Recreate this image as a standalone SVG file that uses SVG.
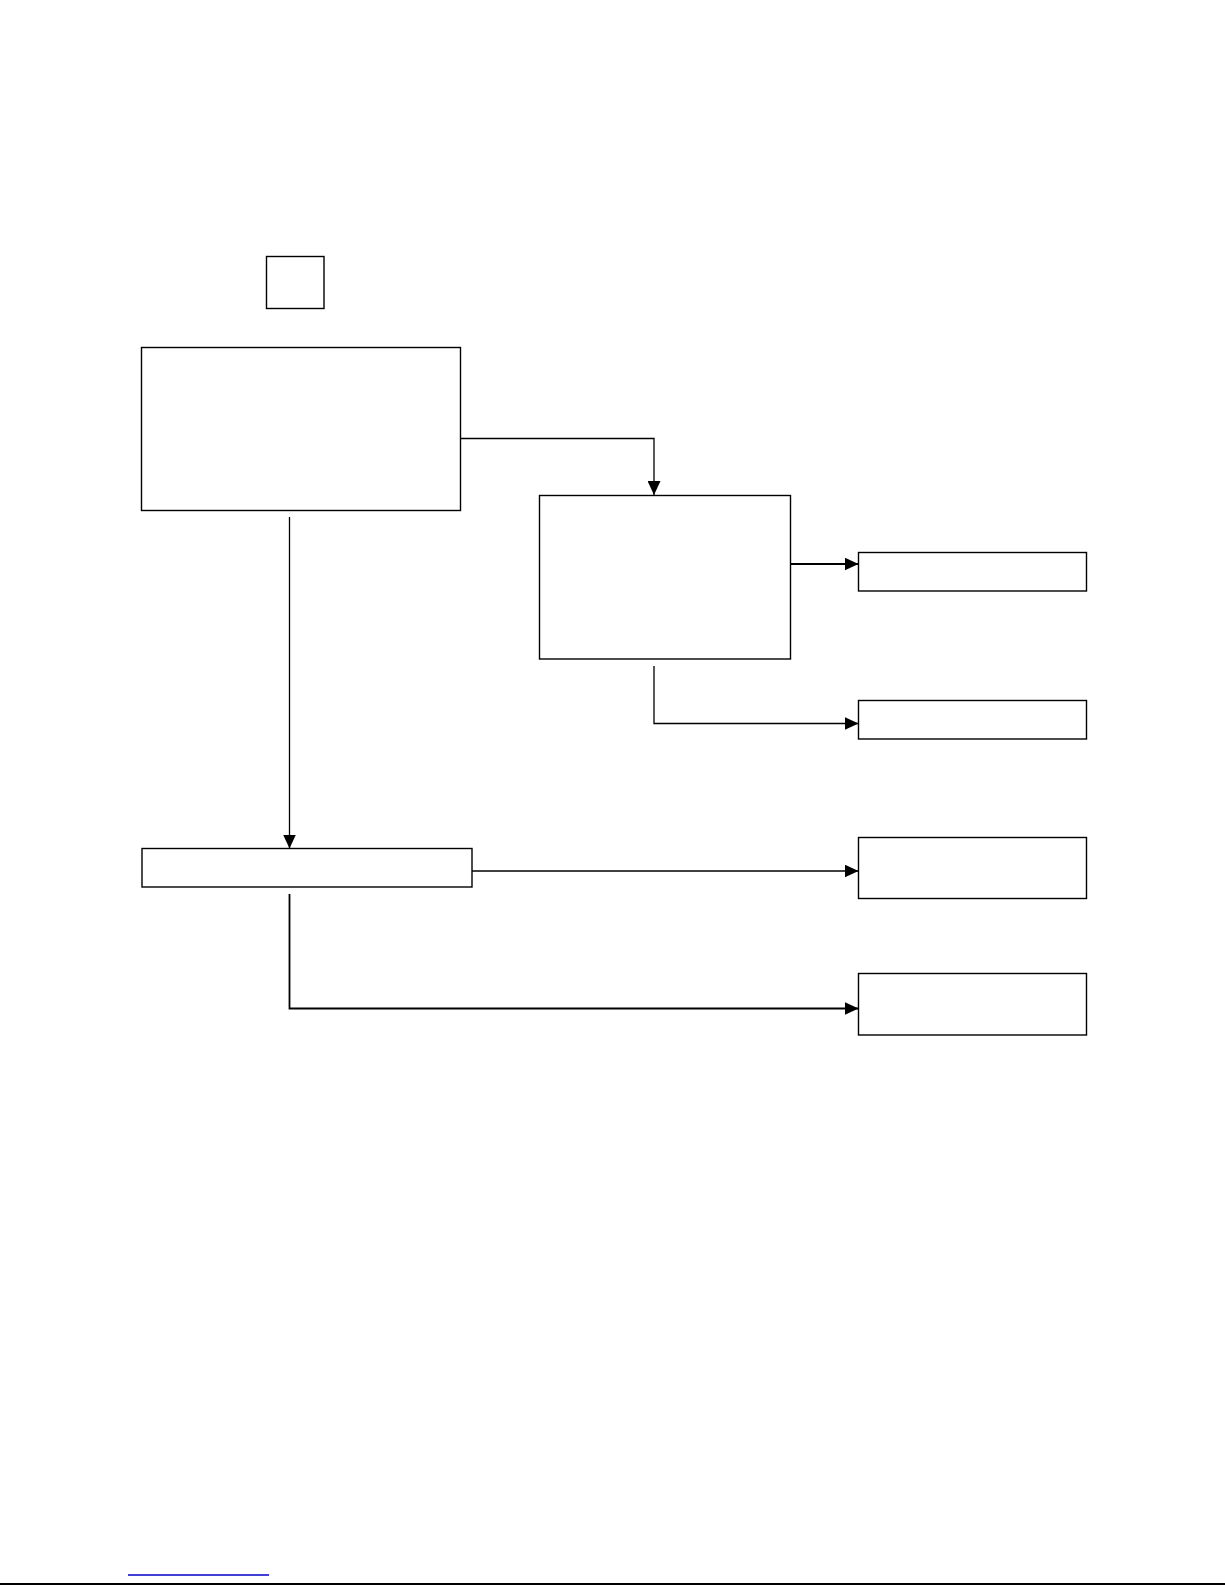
<svg xmlns="http://www.w3.org/2000/svg" width="1225" height="1585" viewBox="0 0 1225 1585">
<style>
.box{fill:#fff;stroke:#000;stroke-width:1.4}
.edge{fill:none;stroke:#000;stroke-width:1.3}
</style>
<defs>
<marker id="arr" markerWidth="14" markerHeight="13" refX="14" refY="6.5" orient="auto" markerUnits="userSpaceOnUse">
<path d="M0,0 L14,6.5 L0,13 Z" fill="#000"/>
</marker>
</defs>
<rect width="1225" height="1585" fill="#fff"/>
<g id="node-square"><rect class="box" x="266.5" y="256.5" width="57.5" height="52"/></g>
<g id="node-a"><rect class="box" x="141.5" y="347.5" width="319" height="163"/></g>
<g id="node-b"><rect class="box" x="539.5" y="495.5" width="251" height="163.5"/></g>
<g id="node-c"><rect class="box" x="858.5" y="552.5" width="228" height="38.5"/></g>
<g id="node-d"><rect class="box" x="858.5" y="700.5" width="228" height="38.5"/></g>
<g id="node-e"><rect class="box" x="142" y="848.5" width="330" height="38.5"/></g>
<g id="node-f"><rect class="box" x="858.5" y="837.5" width="228" height="61"/></g>
<g id="node-g"><rect class="box" x="858.5" y="973.5" width="228" height="61.5"/></g>
<g id="connectors">
<path class="edge" d="M460.5,438.5 H654 V495" marker-end="url(#arr)"/>
<path class="edge" d="M790.5,564 H858.5" marker-end="url(#arr)" style="stroke-width:1.8"/>
<path class="edge" d="M654,666 V723.5 H858.5" marker-end="url(#arr)"/>
<path class="edge" d="M289.5,517 V848.5" marker-end="url(#arr)"/>
<path class="edge" d="M472,871 H858.5" marker-end="url(#arr)"/>
<path class="edge" d="M289.5,894 V1008.5 H858.5" marker-end="url(#arr)" style="stroke-width:1.8"/>
</g>
<line x1="128" y1="1575" x2="269" y2="1575" stroke="#0000cc" stroke-width="1.5"/>
<line x1="0" y1="1584" x2="1225" y2="1584" stroke="#000" stroke-width="2"/>
</svg>
